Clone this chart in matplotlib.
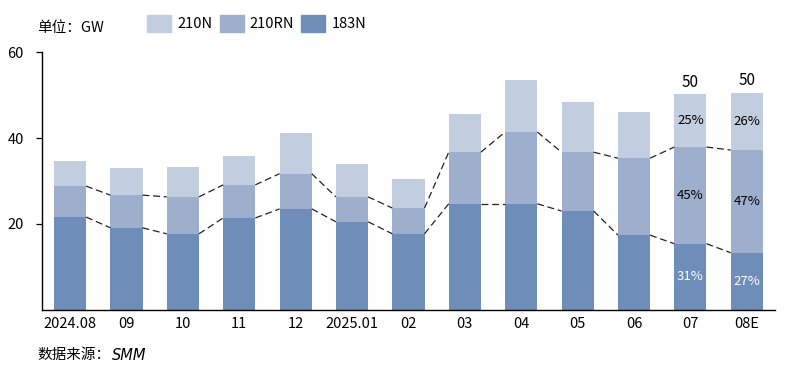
import matplotlib
matplotlib.use("Agg")
import matplotlib.pyplot as plt
import numpy as np
from matplotlib.patches import Patch

plt.rcParams['font.family'] = ['Noto Sans CJK SC', 'DejaVu Sans']

categories = ["2024.08", "09", "10", "11", "12", "2025.01", "02", "03", "04", "05", "06", "07", "08E"]
n183 = [21.6, 19.1, 17.7, 21.4, 23.5, 20.5, 17.7, 24.7, 24.7, 23.0, 17.4, 15.4, 13.3]
n210rn = [7.2, 7.6, 8.6, 7.7, 8.2, 5.8, 6.0, 12.0, 16.7, 13.7, 17.9, 22.5, 23.9]
n210n = [5.9, 6.3, 7.0, 6.7, 9.5, 7.7, 6.8, 8.9, 12.1, 11.7, 10.7, 12.3, 13.3]
total_labels = {11: "50", 12: "50"}
pct_labels = {11: ("31%", "45%", "25%"), 12: ("27%", "47%", "26%")}

c_dark = "#6E8DB8"
c_mid = "#9DAFCD"
c_light = "#C3CDE0"

fig = plt.figure(figsize=(7.9, 3.72), dpi=100)
ax = fig.add_axes([0.053, 0.167, 0.928, 0.693])

x = np.arange(len(categories))
w = 0.57
b1 = np.array(n183)
b2 = b1 + np.array(n210rn)
b3 = b2 + np.array(n210n)
ax.bar(x, n183, w, color=c_dark, label="183N", zorder=2)
ax.bar(x, n210rn, w, bottom=b1, color=c_mid, label="210RN", zorder=2)
ax.bar(x, n210n, w, bottom=b2, color=c_light, label="210N", zorder=2)

# series lines between bars
for cum in (b1, b2):
    for i in range(len(x) - 1):
        ax.plot([x[i] + w / 2, x[i + 1] - w / 2], [cum[i], cum[i + 1]],
                color="#222222", lw=0.9, dashes=(5.5, 3), zorder=3)

for i, t in total_labels.items():
    ax.text(x[i], b3[i] + 0.8, t, ha="center", va="bottom", fontsize=11, color="black")
for i, (p1, p2, p3) in pct_labels.items():
    ax.text(x[i], b1[i] / 2, p1, ha="center", va="center", fontsize=9.5, color="white")
    ax.text(x[i], (b1[i] + b2[i]) / 2, p2, ha="center", va="center", fontsize=9.5, color="black")
    ax.text(x[i], (b2[i] + b3[i]) / 2, p3, ha="center", va="center", fontsize=9.5, color="black")

ax.set_xlim(-0.5, len(categories) - 0.5)
ax.set_ylim(0, 60)
ax.set_yticks([20, 40, 60])
ax.set_xticks(x)
ax.set_xticklabels(categories)
ax.tick_params(axis="x", length=0, labelsize=10.5, pad=5)
ax.tick_params(axis="y", length=4, width=0.9, labelsize=10.5, pad=9)
for s in ("top", "right"):
    ax.spines[s].set_visible(False)
for s in ("left", "bottom"):
    ax.spines[s].set_linewidth(1.0)

handles = [Patch(color=c_light, label="210N"), Patch(color=c_mid, label="210RN"), Patch(color=c_dark, label="183N")]
fig.legend(handles=handles, loc="upper left", bbox_to_anchor=(0.170, 0.995), ncol=3, frameon=False,
           fontsize=10.5, handlelength=1.65, handleheight=1.4, handletextpad=0.4, columnspacing=0.5)
fig.text(0.047, 0.925, "单位：GW", fontsize=10.5, va="center", ha="left")
fig.text(0.047, 0.045, "数据来源：", fontsize=10.5, va="center", ha="left")
fig.text(0.142, 0.045, "SMM", fontsize=10.5, va="center", ha="left", style="italic",
         family=["DejaVu Sans"])

fig.savefig("out.png", dpi=100)
